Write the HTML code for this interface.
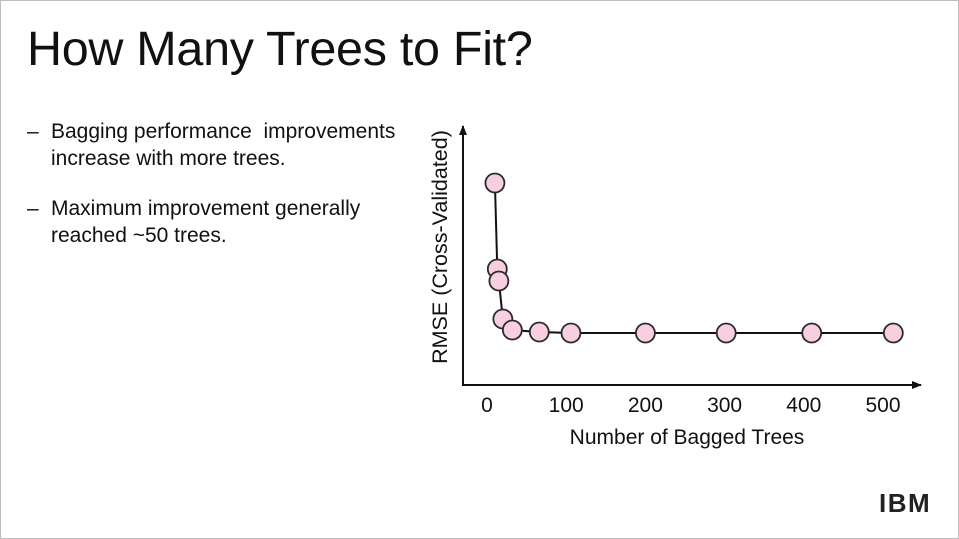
<!DOCTYPE html>
<html><head><meta charset="utf-8"><style>
body{margin:0;background:#fff;}
#slide{position:relative;width:957px;height:537px;border:1px solid #bdbdbd;background:#fff;font-family:"Liberation Sans",sans-serif;color:#111;overflow:hidden;}
#title{position:absolute;left:26px;top:20px;font-size:48.5px;margin:0;font-weight:normal;letter-spacing:-0.3px;}
.bullet{position:absolute;left:26px;font-size:21px;line-height:26.5px;}
.bullet span.d{position:absolute;left:0;}
.bullet div{margin-left:24px;}
#logo{position:absolute;left:878px;top:487px;font-size:26px;font-weight:bold;letter-spacing:1.5px;color:#222;
 background:repeating-linear-gradient(#fff 0 2px,transparent 2px 4px);}
</style></head><body>
<div id="slide">
<h1 id="title">How Many Trees to Fit?</h1>
<div class="bullet" style="top:118px"><span class="d">–</span><div>Bagging performance&nbsp; improvements<br>increase with more trees.</div></div>
<div class="bullet" style="top:195px"><span class="d">–</span><div>Maximum improvement generally<br>reached ~50 trees.</div></div>
<svg id="chart" width="959" height="539" style="position:absolute;left:-1px;top:-1px">
<defs><marker id="ah" markerUnits="userSpaceOnUse" markerWidth="12" markerHeight="12" refX="9" refY="5" orient="auto"><path d="M0,1 L10,5 L0,9 Z" fill="#111"/></marker></defs>
<g id="axes"></g><g id="marks"></g>
</svg>
<div id="logo">IBM</div>
</div>
<script>
const trees=[10,13,15,20,32,66,106,200,302,410,513];
const rmse=[80.8,46.4,41.6,26.4,22,21.2,20.8,20.8,20.8,20.8,20.8];
const xTicks=[0,100,200,300,400,500];
const NS="http://www.w3.org/2000/svg";
function xs(v){return 487+v*0.792;}
function ys(v){return 385-v*2.5;}
const axes=document.getElementById('axes'),marks=document.getElementById('marks');
function mk(tag,attrs,parent){const e=document.createElementNS(NS,tag);for(const k in attrs)e.setAttribute(k,attrs[k]);parent.appendChild(e);return e;}
let e=mk('line',{x1:463,y1:385,x2:463,y2:126,stroke:'#111','stroke-width':2,'marker-end':'url(#ah)'},axes);


e=mk('line',{x1:462,y1:385,x2:921,y2:385,stroke:'#111','stroke-width':2,'marker-end':'url(#ah)'},axes);


xTicks.forEach(t=>{const tx=mk('text',{x:xs(t),y:412,'text-anchor':'middle','font-size':21,'font-family':'Liberation Sans, sans-serif',fill:'#111'},axes);tx.textContent=t;

});
e=mk('text',{x:687,y:444,'text-anchor':'middle','font-size':21,'font-family':'Liberation Sans, sans-serif',fill:'#111'},axes);e.textContent='Number of Bagged Trees';


e=mk('text',{x:0,y:0,'text-anchor':'middle','font-size':21.5,'font-family':'Liberation Sans, sans-serif',fill:'#111',transform:'translate(447,247) rotate(-90)'},axes);e.textContent='RMSE (Cross-Validated)';


const pts=trees.map((t,i)=>xs(t)+','+ys(rmse[i])).join(' ');
e=mk('polyline',{points:pts,fill:'none',stroke:'#111','stroke-width':2},marks);


trees.forEach((t,i)=>{const c=mk('circle',{cx:xs(t),cy:ys(rmse[i]),r:9.5,fill:'#f8cfe0',stroke:'#2a2a2a','stroke-width':1.8},marks);

});
</script>
</body></html>
